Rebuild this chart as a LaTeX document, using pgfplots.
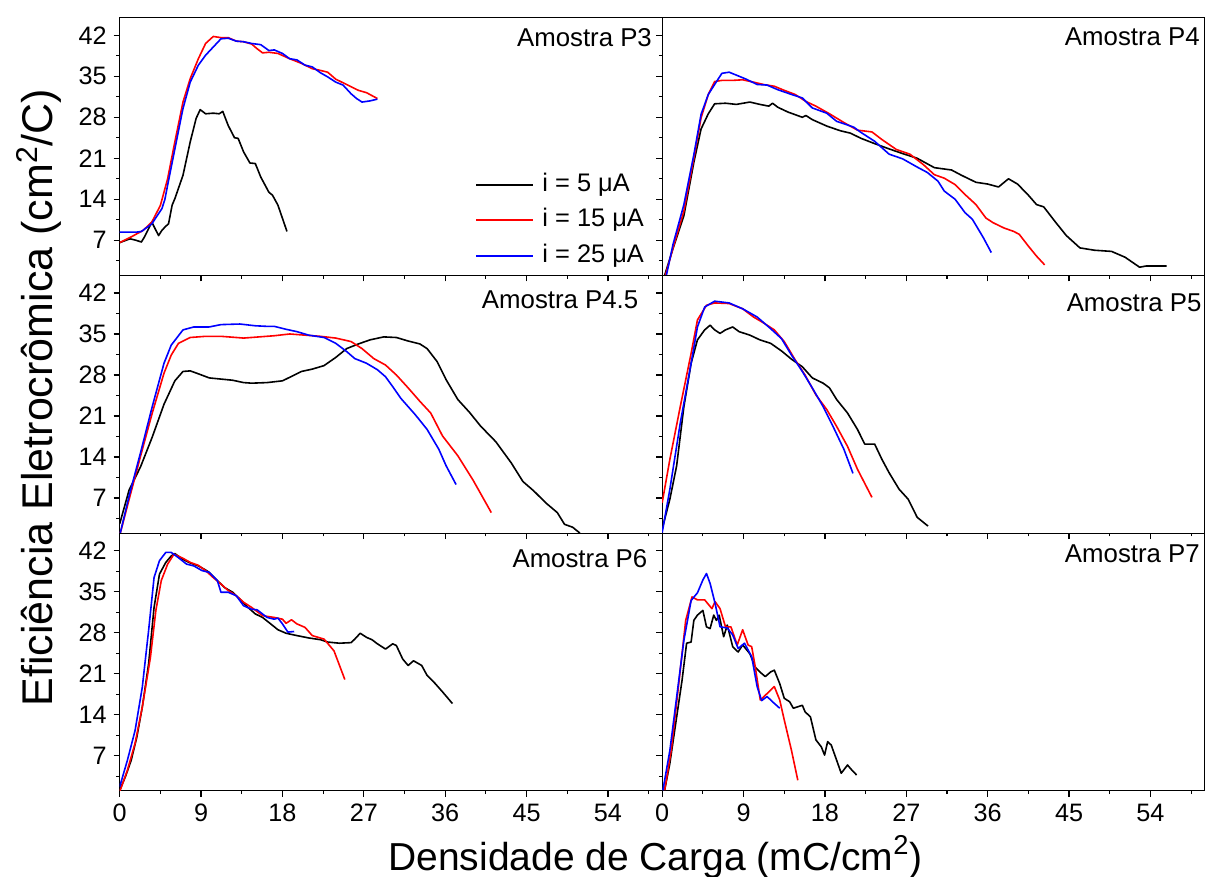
\documentclass[border=0pt]{standalone}
\usepackage{fontspec}
\setmainfont{Liberation Sans}
\usepackage{pgfplots}
\pgfplotsset{compat=1.18}
\usepgfplotslibrary{groupplots}
\usetikzlibrary{calc}
\pgfplotsset{legend image code/.code={\draw[#1, line width=1pt] (0pt,0pt) -- (28.3pt,0pt);}}
\begin{document}
\begin{tikzpicture}
\begin{groupplot}[
  group style={group size=2 by 3, horizontal sep=0pt, vertical sep=0pt,
    xticklabels at=edge bottom, yticklabels at=edge left},
  width=271.25pt, height=128.85pt, scale only axis,
  xmin=0, xmax=60, ymin=1, ymax=45,
  xtick={0,9,...,54}, ytick={7,14,...,42},
  minor xtick={4.5,13.5,...,58.5}, minor ytick={3.5,10.5,...,38.5},
  tick align=outside, xtick pos=bottom, ytick pos=left,
  major tick length=3pt, minor tick length=1.6pt,
  every tick/.style={black, line width=0.6pt},
  axis line style={line width=0.6pt},
  tick label style={font=\fontsize{12.6}{14}\selectfont},
  /pgf/number format/assume math mode=true,
  every axis plot/.append style={line width=0.8pt, line join=round},
]
% ---------------- P3
\nextgroupplot[
  legend style={draw=none, fill=none, at={(0.655,0.2136)}, anchor=west, inner sep=0pt,
    row sep=5.7pt, font=\fontsize{12.7}{14}\selectfont,
    nodes={inner sep=0pt, text height=9.3pt, text depth=2.7pt},
    /tikz/every odd column/.append style={column sep=4.2pt}},
  legend cell align=left]
\addplot[black] coordinates {(0,6.6) (1.14,7.25) (1.8,7.0) (2.4,6.7) (2.75,7.6) (3.55,10.1) (4.3,7.8) (4.67,8.7) (5.1,9.4) (5.4,9.8) (5.8,13.0) (6.1,14.1) (7.0,18.1) (7.8,23.8) (8.45,27.8) (8.9,29.3) (9.5,28.6) (10.35,28.7) (11.0,28.6) (11.4,29.0) (12.0,26.6) (12.7,24.5) (13.1,24.4) (13.7,22.1) (14.4,20.2) (15.0,20.1) (15.6,17.8) (16.5,15.2) (16.9,14.7) (17.5,13.0) (18.5,8.5)};
\addlegendentry{i = 5 μA}
\addplot[red] coordinates {(0,6.6) (1.3,7.6) (2.6,8.7) (3.55,10.1) (4.5,12.95) (5.3,17.5) (6.1,23.8) (7.0,30.6) (7.8,34.6) (8.7,38.0) (9.5,40.6) (10.35,41.8) (11.2,41.6) (12.0,41.6) (12.9,41.0) (13.7,40.9) (14.6,40.5) (15.2,39.7) (15.8,39.0) (16.5,39.1) (17.5,38.9) (18.8,38.0) (20.1,37.2) (21.3,36.3) (22.2,36.0) (23.0,35.7) (23.9,34.5) (25.1,33.6) (26.4,32.6) (27.3,32.2) (28.5,31.2)};
\addlegendentry{i = 15 μA}
\addplot[blue] coordinates {(0,8.4) (1.9,8.4) (2.4,8.5) (3.55,9.8) (4.67,12.4) (5.0,14.0) (5.3,16.4) (6.1,22.6) (7.0,29.5) (7.8,34.0) (8.7,36.9) (9.5,38.6) (10.35,40.0) (11.2,41.4) (12.0,41.5) (12.9,41.0) (13.7,40.9) (14.6,40.6) (15.6,40.4) (16.5,39.4) (17.1,39.5) (18.0,38.9) (18.8,38.0) (19.6,37.8) (20.5,36.9) (21.3,36.6) (22.2,35.6) (23.0,34.9) (23.9,34.0) (24.7,33.5) (25.6,32.0) (26.2,31.2) (26.8,30.6) (27.7,30.8) (28.5,31.1)};
\addlegendentry{i = 25 μA}
\node[anchor=east, inner sep=0pt, font=\fontsize{12.9}{14}\selectfont] at (axis cs:58.9,41.6) {Amostra P3};
% ---------------- P4
\nextgroupplot
\addplot[black] coordinates {(0,0.2) (0.27,1.0) (1.2,5.6) (2.4,11.2) (3.5,20.3) (4.3,26.0) (5.1,28.6) (5.8,30.3) (7.0,30.4) (8.2,30.2) (9.7,30.6) (10.8,30.2) (11.8,29.9) (12.2,30.4) (12.8,29.7) (13.9,28.9) (15.5,28.0) (15.9,28.3) (16.6,27.6) (18.2,26.5) (19.7,25.7) (20.8,25.3) (22.0,24.4) (23.5,23.5) (25.1,22.6) (26.6,21.8) (28.2,21.0) (30.1,19.4) (32.0,19.0) (33.1,18.1) (34.7,16.9) (36.0,16.6) (37.2,16.1) (38.3,17.5) (39.3,16.6) (40.5,14.7) (41.4,13.1) (42.2,12.7) (43.5,10.1) (44.7,7.8) (46.2,5.7) (47.8,5.3) (49.7,5.1) (51.2,4.1) (52.8,2.4) (53.5,2.6) (55.8,2.6)};
\addplot[red] coordinates {(0,0.2) (0.27,0.5) (1.2,5.7) (2.4,12.0) (3.5,21.0) (4.3,27.9) (5.1,31.9) (5.8,34.1) (6.6,34.3) (7.8,34.3) (8.9,34.4) (10.1,34.0) (11.2,33.6) (12.4,33.3) (13.5,32.6) (14.7,31.9) (15.9,30.7) (17.0,29.9) (18.5,28.6) (20.1,27.1) (21.6,25.8) (23.2,25.5) (24.3,24.2) (25.9,22.5) (27.4,21.7) (28.9,19.9) (30.1,18.2) (31.2,17.6) (32.4,16.5) (33.5,14.8) (34.7,13.1) (35.8,10.8) (36.6,10.0) (37.8,9.1) (38.9,8.5) (39.5,8.0) (40.5,6.0) (41.4,4.3) (42.3,2.8)};
\addplot[blue] coordinates {(0.46,1.0) (1.2,6.3) (2.4,13.1) (3.5,21.6) (4.3,28.5) (5.1,31.9) (5.8,33.6) (6.6,35.5) (7.4,35.7) (8.2,35.2) (9.3,34.5) (10.5,33.6) (11.6,33.5) (12.8,32.7) (14.3,31.9) (15.5,31.3) (16.6,29.6) (18.2,28.7) (19.3,27.3) (20.1,26.9) (21.2,26.3) (22.0,25.4) (23.5,23.9) (25.1,21.7) (26.6,20.9) (28.2,19.5) (29.3,18.6) (30.5,17.1) (31.2,15.4) (32.4,14.0) (33.5,11.7) (34.3,10.6) (35.5,7.5) (36.4,4.9)};
\node[anchor=east, inner sep=0pt, font=\fontsize{12.9}{14}\selectfont] at (axis cs:59.5,41.8) {Amostra P4};
% ---------------- P4.5
\nextgroupplot
\addplot[black] coordinates {(0,2.6) (1.05,8.4) (2.3,12.3) (3.6,17.4) (4.9,23.0) (6.1,27.0) (7.0,28.6) (7.8,28.7) (8.7,28.2) (9.9,27.5) (11.2,27.3) (12.5,27.1) (13.7,26.7) (14.6,26.6) (16.3,26.7) (18.0,27.0) (18.8,27.6) (20.1,28.6) (21.3,29.0) (22.6,29.6) (23.9,31.0) (25.1,32.5) (26.4,33.3) (27.7,34.0) (29.2,34.5) (30.6,34.4) (31.9,33.8) (33.2,33.3) (34.0,32.5) (35.1,30.3) (36.1,27.2) (37.4,23.8) (38.7,21.6) (39.9,19.3) (41.6,16.6) (43.3,13.0) (44.6,9.8) (45.8,8.2) (47.1,6.2) (48.4,4.5) (49.2,2.5) (50.1,2.0) (50.9,1.0)};
\addplot[red] coordinates {(0,0.6) (1.05,6.8) (2.3,14.1) (3.6,21.5) (4.9,28.3) (5.7,31.4) (6.5,33.4) (7.8,34.4) (9.5,34.6) (11.2,34.6) (12.9,34.4) (13.7,34.3) (15.4,34.5) (17.1,34.7) (18.8,35.0) (20.5,34.8) (22.2,34.6) (23.9,34.3) (25.6,33.7) (26.8,32.5) (28.1,30.8) (29.4,29.7) (30.6,28.0) (31.9,25.8) (33.2,23.5) (34.4,21.5) (35.7,17.6) (37.4,14.2) (39.1,10.0) (41.1,4.5)};
\addplot[blue] coordinates {(0,0.6) (1.05,7.4) (2.3,14.7) (3.6,22.6) (4.9,30.0) (5.7,33.1) (7.0,35.7) (8.2,36.2) (9.9,36.2) (11.2,36.6) (13.3,36.7) (15.0,36.4) (16.3,36.3) (17.1,36.3) (18.4,35.8) (19.6,35.4) (20.9,34.8) (22.6,34.4) (23.9,33.4) (25.1,32.0) (26.0,30.8) (27.3,30.0) (28.5,28.9) (29.4,27.7) (30.2,26.0) (31.1,24.0) (31.9,22.6) (32.7,21.2) (34.0,18.7) (35.3,15.3) (36.1,12.5) (37.2,9.3)};
\node[anchor=east, inner sep=0pt, font=\fontsize{12.9}{14}\selectfont] at (axis cs:57.4,40.8) {Amostra P4.5};
% ---------------- P5
\nextgroupplot
\addplot[black] coordinates {(0,1.7) (0.85,6.8) (1.6,12.5) (2.4,22.6) (3.2,30.0) (3.9,34.0) (4.7,35.7) (5.3,36.5) (5.8,35.7) (6.4,35.1) (7.0,35.7) (7.8,36.2) (8.5,35.4) (9.7,34.8) (10.8,34.0) (12.0,33.4) (13.2,32.1) (14.3,30.7) (15.5,29.4) (16.6,27.5) (17.8,26.6) (18.5,25.8) (19.3,23.8) (20.5,21.5) (21.6,18.7) (22.4,16.2) (23.5,16.2) (24.3,13.6) (25.1,11.3) (26.2,8.5) (27.2,6.8) (28.2,3.7) (29.4,2.2)};
\addplot[red] coordinates {(0,6.2) (0.85,13.6) (2.0,22.6) (3.2,31.7) (3.9,37.4) (4.9,39.9) (5.8,40.3) (7.4,40.2) (8.9,39.3) (10.1,37.9) (11.2,36.9) (12.4,35.7) (13.5,33.7) (14.7,30.6) (15.8,28.0) (17.0,24.6) (18.2,22.1) (19.3,19.2) (20.5,15.8) (21.6,11.9) (23.2,7.1)};
\addplot[blue] coordinates {(0,1.1) (0.85,8.5) (2.0,19.8) (3.2,30.0) (3.9,36.2) (4.7,39.6) (5.8,40.6) (7.4,40.3) (8.9,39.3) (10.5,37.9) (12.0,35.9) (13.2,34.2) (14.3,31.4) (15.5,28.6) (16.6,25.8) (17.8,22.6) (18.9,19.2) (20.1,15.3) (21.1,11.2)};
\node[anchor=east, inner sep=0pt, font=\fontsize{12.9}{14}\selectfont] at (axis cs:59.7,40.4) {Amostra P5};
% ---------------- P6
\nextgroupplot
\addplot[black] coordinates {(0,1.1) (0.63,3.4) (1.27,6.2) (1.9,10.2) (2.5,15.3) (3.2,22.7) (3.8,32.3) (4.4,38.0) (5.1,40.0) (5.7,41.1) (6.1,41.5) (7.0,40.5) (7.8,39.9) (8.7,39.4) (9.5,38.7) (9.9,38.3) (10.8,36.9) (11.6,35.7) (12.5,34.9) (13.3,33.7) (14.2,32.3) (15.0,31.2) (15.8,30.6) (16.7,29.5) (17.5,28.5) (18.4,27.9) (19.6,27.5) (20.9,27.1) (22.2,26.8) (23.0,26.4) (24.3,26.2) (25.6,26.3) (26.0,26.9) (26.6,27.9) (27.3,27.2) (27.9,26.8) (28.5,26.1) (29.4,25.2) (30.2,26.1) (30.6,25.8) (31.3,23.5) (31.9,22.4) (32.5,23.2) (33.4,22.4) (34.0,20.7) (34.9,19.3) (35.7,17.9) (36.8,15.9)};
\addplot[red] coordinates {(0,0.85) (0.85,4.5) (1.7,9.1) (2.5,15.3) (3.4,23.8) (4.0,31.8) (4.6,36.9) (5.3,39.7) (6.0,41.4) (7.0,40.7) (7.8,40.0) (8.7,39.5) (9.5,38.6) (10.35,37.4) (11.2,36.3) (12.0,35.2) (12.9,34.3) (13.7,33.2) (14.6,32.3) (15.8,30.9) (17.1,30.6) (18.0,30.3) (18.4,29.6) (19.0,30.2) (19.6,29.5) (20.5,28.9) (21.3,27.5) (22.6,26.9) (23.7,24.9) (24.9,20.0)};
\addplot[blue] coordinates {(0,1.7) (0.85,6.2) (1.7,11.3) (2.5,18.7) (3.2,28.4) (3.8,37.4) (4.4,40.3) (5.1,41.7) (5.7,41.7) (6.5,40.8) (7.4,39.7) (8.2,39.4) (9.1,38.6) (9.9,38.3) (10.8,36.9) (11.2,34.9) (12.0,34.9) (12.9,34.3) (13.7,32.6) (14.6,32.0) (15.2,31.9) (16.3,30.6) (17.1,30.3) (17.5,30.5) (18.0,29.5) (18.6,28.1) (19.3,28.2)};
\node[anchor=east, inner sep=0pt, font=\fontsize{12.9}{14}\selectfont] at (axis cs:58.4,40.7) {Amostra P6};
% ---------------- P7
\nextgroupplot
\addplot[black] coordinates {(0.27,1.1) (0.85,5.7) (1.6,13.6) (2.2,19.9) (2.7,26.2) (3.2,26.4) (3.5,30.1) (3.9,31.0) (4.5,31.8) (4.9,29.0) (5.3,28.7) (5.7,31.0) (6.0,30.1) (6.3,31.0) (6.8,27.3) (7.2,29.3) (7.8,25.6) (8.4,24.7) (8.9,25.9) (9.7,24.4) (10.3,22.1) (10.8,21.3) (11.4,20.5) (12.0,21.3) (12.4,21.6) (13.0,19.3) (13.5,16.8) (14.1,16.2) (14.5,15.1) (15.1,15.4) (15.5,15.6) (15.8,14.5) (16.4,13.6) (17.0,9.7) (17.6,8.5) (17.96,7.1) (18.3,9.4) (18.7,8.8) (19.3,6.2) (19.8,4.0) (20.5,5.4) (21.0,4.5) (21.5,3.7)};
\addplot[red] coordinates {(0.27,1.1) (1.0,7.9) (1.8,18.8) (2.6,30.1) (3.3,34.1) (3.9,33.6) (4.7,33.6) (5.5,32.1) (5.85,33.3) (6.4,32.1) (7.0,29.0) (7.6,29.0) (8.3,25.9) (8.9,28.5) (9.5,25.9) (9.9,25.6) (10.3,22.1) (10.85,16.5) (11.6,17.6) (12.4,18.8) (13.0,16.5) (13.5,13.1) (14.3,7.9) (15.0,2.8)};
\addplot[blue] coordinates {(0.08,1.1) (0.85,7.9) (1.6,17.0) (2.4,26.7) (3.2,33.5) (3.9,34.8) (4.5,37.0) (4.9,38.1) (5.3,36.4) (5.85,33.0) (6.4,29.0) (7.2,28.8) (7.8,27.6) (8.4,25.3) (9.1,26.2) (9.9,23.9) (10.5,18.8) (11.0,16.4) (11.6,17.1) (12.2,16.2) (13.0,15.1)};
\node[anchor=east, inner sep=0pt, font=\fontsize{12.9}{14}\selectfont] at (axis cs:59.5,41.5) {Amostra P7};
\end{groupplot}
\node[anchor=base, font=\fontsize{19.5}{22}\selectfont] at ([xshift=267.9pt,yshift=-39.6pt]group c1r3.south west) {Densidade de Carga (mC/cm\textsuperscript{2})};
\node[anchor=base, rotate=90, font=\fontsize{21.5}{24}\selectfont] at ([xshift=-33.6pt,yshift=196.65pt]group c1r3.south west) {Eficiência Eletrocrômica (cm\textsuperscript{2}/C)};
\pgfresetboundingbox
\path[use as bounding box] ([xshift=-59.85pt,yshift=-43.1pt]group c1r3.south west) rectangle ++(602.5pt,438.5pt);
\end{tikzpicture}
\end{document}
